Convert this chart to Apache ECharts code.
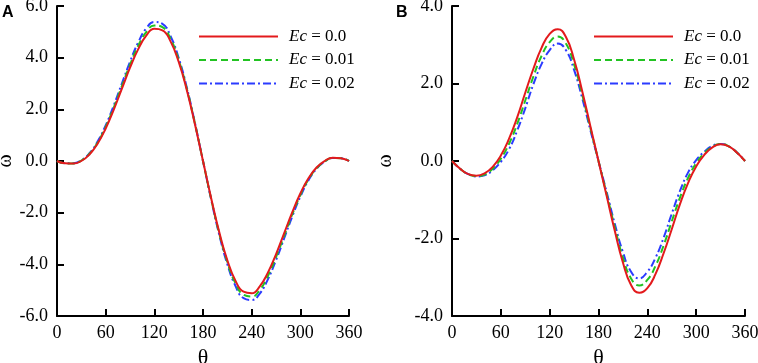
<!DOCTYPE html>
<html>
<head>
<meta charset="utf-8">
<script src="https://cdn.jsdelivr.net/npm/echarts@6/dist/echarts.min.js"></script>
<style>
  html, body { margin: 0; padding: 0; background: #fff; }
  #chart { width: 758px; height: 363px; }
</style>
</head>
<body>
<div id="chart"></div>
<script>
// Ángulo theta (grados), común a las dos gráficas
const theta = [0, 10, 20, 30, 40, 50, 60, 70, 80, 90, 100, 110, 120, 130, 140, 150, 160, 170, 180,
  190, 200, 210, 220, 230, 240, 250, 260, 270, 280, 290, 300, 310, 320, 330, 340, 350, 360];

const seriesNames = ["Ec = 0.0", "Ec = 0.01", "Ec = 0.02"];

// Panel A
const omegaA0 = [0, -0.09, -0.1, 0.0, 0.25, 0.67, 1.26, 1.99, 2.8, 3.61, 4.32, 4.85, 5.12, 5.06, 4.63, 3.84, 2.75, 1.43, 0,
  -1.43, -2.75, -3.84, -4.63, -5.06, -5.12, -4.85, -4.32, -3.61, -2.8, -1.99, -1.26, -0.67, -0.25, 0.0, 0.13, 0.11, 0];
const omegaA1 = [0, -0.09, -0.1, 0.02, 0.28, 0.71, 1.32, 2.07, 2.9, 3.72, 4.45, 4.99, 5.25, 5.18, 4.73, 3.91, 2.8, 1.46, 0,
  -1.46, -2.8, -3.91, -4.73, -5.18, -5.25, -4.99, -4.45, -3.72, -2.9, -2.07, -1.32, -0.71, -0.28, -0.02, 0.12, 0.11, 0];
const omegaA2 = [0, -0.09, -0.09, 0.03, 0.3, 0.75, 1.38, 2.15, 3.0, 3.84, 4.58, 5.13, 5.38, 5.31, 4.83, 3.99, 2.85, 1.48, 0,
  -1.48, -2.85, -3.99, -4.83, -5.31, -5.38, -5.13, -4.58, -3.84, -3.0, -2.15, -1.38, -0.75, -0.3, -0.03, 0.12, 0.11, 0];

// Panel B
const omegaB0 = [0, -0.2, -0.34, -0.38, -0.32, -0.15, 0.14, 0.57, 1.12, 1.76, 2.38, 2.92, 3.28, 3.4, 3.2, 2.62, 1.8, 0.9, 0,
  -0.9, -1.8, -2.62, -3.2, -3.4, -3.28, -2.92, -2.38, -1.76, -1.12, -0.57, -0.14, 0.16, 0.35, 0.43, 0.38, 0.22, 0];
const omegaB1 = [0, -0.2, -0.34, -0.39, -0.35, -0.2, 0.06, 0.44, 0.95, 1.56, 2.18, 2.71, 3.07, 3.21, 3.03, 2.49, 1.71, 0.85, 0,
  -0.85, -1.71, -2.49, -3.03, -3.21, -3.07, -2.71, -2.18, -1.56, -0.95, -0.44, -0.06, 0.2, 0.37, 0.44, 0.38, 0.22, 0];
const omegaB2 = [0, -0.2, -0.34, -0.4, -0.37, -0.24, -0.02, 0.3, 0.78, 1.36, 1.98, 2.5, 2.86, 3.03, 2.86, 2.35, 1.62, 0.8, 0,
  -0.8, -1.62, -2.35, -2.86, -3.03, -2.86, -2.5, -1.98, -1.36, -0.78, -0.3, 0.02, 0.24, 0.39, 0.44, 0.38, 0.22, 0];

const serif = "'Liberation Serif', 'Times New Roman', serif";
const lineColors = ["#e31a1c", "#22c322", "#2b3bff"];
const lineTypes = ["solid", [7, 4], [8, 3, 2, 3]];

function toPairs(values) {
  return theta.map((t, i) => [t, values[i]]);
}

function makeSeries(values, idx, axisIndex) {
  return {
    name: seriesNames[idx],
    type: "line",
    xAxisIndex: axisIndex,
    yAxisIndex: axisIndex,
    data: toPairs(values),
    smooth: true,
    symbol: "none",
    lineStyle: { color: lineColors[idx], width: 2, type: lineTypes[idx] },
    itemStyle: { color: lineColors[idx] },
    z: 10 - idx,
  };
}

function makeXAxis(gridIndex) {
  return {
    type: "value",
    gridIndex: gridIndex,
    min: 0,
    max: 360,
    interval: 60,
    name: "θ",
    nameLocation: "middle",
    nameGap: 27,
    nameTextStyle: { fontFamily: serif, fontSize: 22, color: "#000" },
    axisLine: { onZero: false, lineStyle: { color: "#000", width: 2 } },
    axisTick: { inside: true, length: 7, lineStyle: { color: "#000", width: 2 } },
    axisLabel: { fontFamily: serif, fontSize: 18, color: "#000", margin: 8 },
    splitLine: { show: false },
  };
}

function makeYAxis(gridIndex, lim, gap) {
  return {
    type: "value",
    gridIndex: gridIndex,
    min: -lim,
    max: lim,
    interval: 2,
    name: "ω",
    nameLocation: "middle",
    nameGap: gap,
    nameRotate: 90,
    nameTextStyle: { fontFamily: serif, fontSize: 20, color: "#000" },
    axisLine: { onZero: false, lineStyle: { color: "#000", width: 2 } },
    axisTick: { inside: true, length: 7, lineStyle: { color: "#000", width: 2 } },
    axisLabel: {
      fontFamily: serif, fontSize: 18, color: "#000", margin: 9,
      formatter: (v) => v.toFixed(1),
    },
    splitLine: { show: false },
  };
}

function makeLegend(left) {
  return {
    orient: "vertical",
    left: left,
    top: 28,
    padding: 0,
    itemWidth: 79,
    itemHeight: 14,
    itemGap: 6.5,
    data: seriesNames,
    selectedMode: false,
    itemStyle: { opacity: 0 },
    formatter: (name) => "{i|Ec} {n|" + name.slice(3) + "}",
    textStyle: {
      fontFamily: serif,
      fontSize: 17,
      color: "#000",
      padding: [0, 0, 0, 6],
      rich: {
        i: { fontFamily: serif, fontSize: 17, lineHeight: 14, fontStyle: "italic", color: "#000" },
        n: { fontFamily: serif, fontSize: 17, lineHeight: 14, color: "#000" },
      },
    },
  };
}

const chart = echarts.init(document.getElementById("chart"));

const option = {
  animation: false,
  backgroundColor: "#fff",
  grid: [
    { left: 57, right: 409, top: 6, bottom: 47, containLabel: false, outerBoundsMode: "none" },
    { left: 452, right: 13, top: 6, bottom: 47, containLabel: false, outerBoundsMode: "none" },
  ],
  xAxis: [makeXAxis(0), makeXAxis(1)],
  yAxis: [makeYAxis(0, 6, 34), makeYAxis(1, 4, 56)],
  legend: [makeLegend(198), makeLegend(593)],
  graphic: [
    { type: "text", left: 2, top: 5, style: { text: "A", font: "bold 16px 'Liberation Sans', Arial, sans-serif", fill: "#000" } },
    { type: "text", left: 396, top: 5, style: { text: "B", font: "bold 16px 'Liberation Sans', Arial, sans-serif", fill: "#000" } },
  ],
  series: [
    makeSeries(omegaA0, 0, 0),
    makeSeries(omegaA1, 1, 0),
    makeSeries(omegaA2, 2, 0),
    makeSeries(omegaB0, 0, 1),
    makeSeries(omegaB1, 1, 1),
    makeSeries(omegaB2, 2, 1),
  ],
};

chart.setOption(option);
window.addEventListener("resize", () => chart.resize());
</script>
</body>
</html>
